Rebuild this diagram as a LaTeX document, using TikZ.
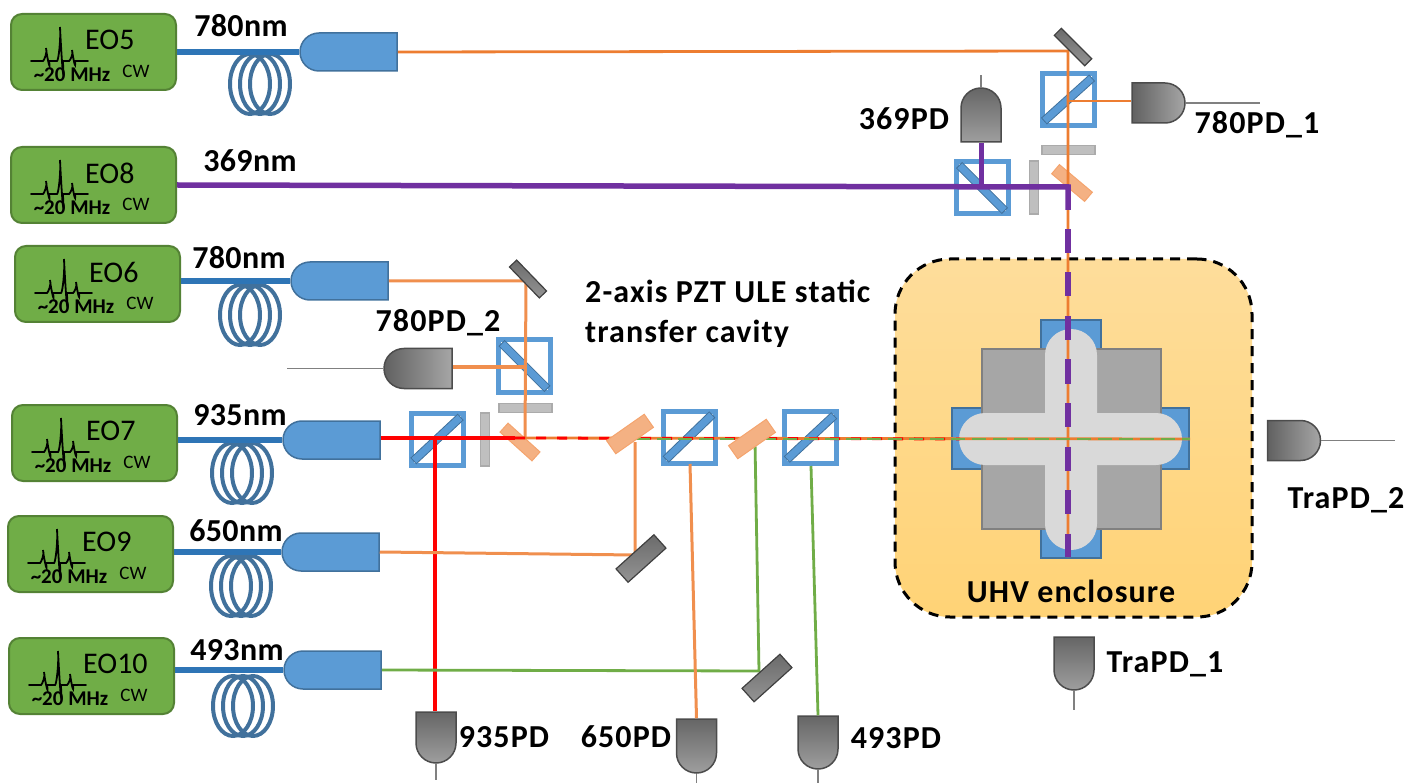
\documentclass[tikz,border=0pt]{standalone}
\usepackage{fontspec}
\setmainfont{Carlito}
\usetikzlibrary{shapes.misc}
\definecolor{eofill}{HTML}{70AD47}
\definecolor{eoline}{HTML}{548235}
\definecolor{bluefill}{HTML}{5B9BD5}
\definecolor{blueline}{HTML}{41719C}
\definecolor{fiberblue}{HTML}{2E75B6}
\definecolor{beamorange}{HTML}{ED7D31}
\definecolor{beamlight}{HTML}{F08F4E}
\definecolor{beamred}{HTML}{FF0000}
\definecolor{beamgreen}{HTML}{70AD47}
\definecolor{beampurple}{HTML}{7030A0}
\definecolor{dichfill}{HTML}{F4B183}
\definecolor{dichline}{HTML}{F4A46E}
\definecolor{wpfill}{HTML}{BFBFBF}
\definecolor{wpline}{HTML}{ABABAB}
\definecolor{uhvtop}{RGB}{254,221,155}
\definecolor{uhvbot}{RGB}{255,211,118}
\tikzset{
  lbl/.style={inner sep=0pt,font=\fontsize{32}{36}\selectfont\bfseries\addfontfeature{LetterSpace=3.5}},
  nmlbl/.style={inner sep=0pt,font=\fontsize{32}{36}\selectfont\bfseries\addfontfeature{LetterSpace=1}},
  eobox/.style={draw=eoline,line width=2pt,fill=eofill,rounded corners=11pt,minimum width=165pt,minimum height=76pt,inner sep=0pt},
  fiber/.style={draw=fiberblue,line width=5.5pt},
  coilstyle/.style={draw=blueline,line width=4pt},
  coll/.style={draw=blueline,line width=1.5pt,fill=bluefill,rounded rectangle,rounded rectangle east arc=none,minimum width=97pt,minimum height=38pt,inner sep=0pt},
  pd/.style={draw=black!70,line width=1.5pt,rounded rectangle,rounded rectangle east arc=none,minimum width=#1,minimum height=40pt,inner sep=0pt},
  pd/.default=53pt,
  pdh/.style={left color=black!62,right color=black!35},
  pdv/.style={top color=black!60,bottom color=black!38},
  wire/.style={draw=black!50,line width=1.2pt},
  mirror/.style={draw=black!75,line width=1.2pt,top color=black!58,bottom color=black!42,minimum height=10pt,minimum width=43pt,inner sep=0pt},
  bigmirror/.style={mirror,minimum height=18pt,minimum width=51pt},
  cube/.style={draw=bluefill,line width=5pt,minimum width=52pt,minimum height=52pt,inner sep=0pt},
  cubebar/.style={draw=blueline,line width=.8pt,fill=bluefill,minimum width=64pt,minimum height=8pt,inner sep=0pt},
  wp/.style={draw=wpline,line width=1.2pt,fill=wpfill,minimum width=53pt,minimum height=9pt,inner sep=0pt},
  dich/.style={draw=dichline,line width=1pt,fill=dichfill,minimum width=43pt,minimum height=12pt,inner sep=0pt},
  bigdich/.style={dich,minimum width=46pt,minimum height=16pt},
  beamO/.style={draw=beamorange,line width=2.8pt},
  beamL/.style={draw=beamlight,line width=3pt},
  beamR/.style={draw=beamred,line width=3.6pt},
  beamG/.style={draw=beamgreen,line width=2.8pt},
  beamP/.style={draw=beampurple,line width=5.5pt},
}
\newcommand{\EOunit}[4]{% name, x left, y top, label
  \node[eobox,anchor=north west] (#1) at (#2,#3) {};
  \draw[line width=1.8pt,line cap=round] ([shift={(21pt,-48pt)}]#1.north west) -- ++(12,0) .. controls +(1,0) and +(2,3) .. ++(3,-13) .. controls +(1,10) and +(2,13) .. ++(3,13) -- ++(8,0) .. controls +(1.5,0) and +(1,12) .. ++(3,-34) .. controls +(1,22) and +(1,34) .. ++(3,34) -- ++(6,0) .. controls +(1,0) and +(2,3) .. ++(3,-11) .. controls +(1,8) and +(1,11) .. ++(3,11) -- ++(13,0);
  \node[inner sep=0pt,anchor=west,font=\fontsize{30}{32}\selectfont] (#1-name) at ([shift={(75pt,-27pt)}]#1.north west) {#4};
  \node[inner sep=0pt,font=\fontsize{21}{23}\selectfont\bfseries] (#1-freq) at ([shift={(62pt,-62pt)}]#1.north west) {\char"7E 20 MHz};
  \node[inner sep=0pt,font=\fontsize{19}{21}\selectfont] (#1-cw) at ([shift={(126pt,-58pt)}]#1.north west) {CW};
}
\newcommand{\coil}[2]{%
  \foreach \dx in {-10,0,10} \draw[coilstyle] (#1+\dx,#2) ellipse [x radius=20pt,y radius=30pt];
}
\begin{document}
\begin{tikzpicture}[x=1pt,y=-1pt]
\useasboundingbox (0,0) rectangle (1421,783);

% ---- coils (under fibres)
\coil{260}{84}
\coil{250}{315}
\coil{242}{473}
\coil{241}{586}
\coil{243}{706}

% ---- EO units
\EOunit{EO5}{10}{13}{EO5}
\EOunit{EO8}{10}{146}{EO8}
\EOunit{EO6}{14}{245}{EO6}
\EOunit{EO7}{11}{404}{EO7}
\EOunit{EO9}{7}{515}{EO9}
\EOunit{EO10}{8}{637}{EO10}

% ---- collimators
\node[coll] (col5) at (348.5,52) {};
\node[coll] (col6) at (339.5,281) {};
\node[coll] (col7) at (331.5,440) {};
\node[coll] (col9) at (330.5,552) {};
\node[coll] (col10) at (332.5,670) {};

\draw[fiber] (col5.west -| EO5.east) -- (col5.west);
\draw[fiber] (col6.west -| EO6.east) -- (col6.west);
\draw[fiber] (col7.west -| EO7.east) -- (col7.west);
\draw[fiber] (col9.west -| EO9.east) -- (col9.west);
\draw[fiber] (col10.west -| EO10.east) -- (col10.west);

% ---- UHV enclosure
\node[draw=black,line width=3pt,dash pattern=on 10pt off 7pt,rounded corners=55pt,minimum width=357pt,minimum height=358pt,inner sep=0pt,top color=uhvtop,bottom color=uhvbot] (uhv) at (1073.5,438) {};
\node[draw=blueline,line width=1.5pt,fill=bluefill,minimum width=60pt,minimum height=238pt,inner sep=0pt] (portV) at (1071,439) {};
\node[draw=blueline,line width=1.5pt,fill=bluefill,minimum width=237pt,minimum height=61pt,inner sep=0pt] (portH) at (1070.5,438.5) {};
\node[draw=black!50,line width=2pt,fill=black!35,minimum width=179pt,minimum height=180pt,inner sep=0pt] (block) at (1071.5,439) {};
\node[fill=black!15,rounded rectangle,minimum width=223pt,minimum height=52pt,inner sep=0pt] (capH) at (1070.5,439) {};
\node[fill=black!15,rounded rectangle,rotate=90,minimum width=221pt,minimum height=52pt,inner sep=0pt] (capV) at (1071,439.5) {};

% ---- optics on the top right
\node[cube] (pbs1) at (1068,99.5) {};
\node[cubebar,rotate=42] (pbs1bar) at (pbs1.center) {};
\node[cube] (pbs2) at (982,188) {};
\node[cubebar,rotate=-45] (pbs2bar) at (pbs2.center) {};
\node[wp] (wp1) at (1068.5,150) {};
\node[wp,rotate=90] (wp2) at (1034,187.5) {};
\node[dich,rotate=-40] (d1) at (1072,183) {};

% ---- optics at the left
\node[cube] (pbs3) at (524.5,366) {};
\node[cubebar,rotate=-45] (pbs3bar) at (pbs3.center) {};
\node[wp] (wp3) at (525.5,408) {};
\node[cube] (pbs4) at (437,439) {};
\node[cubebar,rotate=43] (pbs4bar) at (pbs4.center) {};
\node[wp,rotate=90] (wp4) at (485,439.5) {};
\node[dich,rotate=-42] (d2) at (520,442) {};
\node[cube] (pbs5) at (689,437) {};
\node[cubebar,rotate=44] (pbs5bar) at (pbs5.center) {};
\node[cube] (pbs6) at (810.5,437.5) {};
\node[cubebar,rotate=43] (pbs6bar) at (pbs6.center) {};

% ---- photodiodes
\node[pd,pdh,rotate=180] (pd7801) at (1158.5,103) {};
\node[pd=54pt,pdv,rotate=-90] (pd369) at (981,115) {};
\node[pd=68pt,pdh] (pd7802) at (418,368.5) {};
\node[pd,pdh,rotate=180] (pdT2) at (1294,440.5) {};
\node[pd,pdv,rotate=90] (pdT1) at (1074,663.5) {};
\node[pd=51pt,pdv,rotate=90] (pd935) at (436,737.5) {};
\node[pd=54pt,pdv,rotate=90] (pd650) at (696.5,746) {};
\node[pd=53pt,pdv,rotate=90] (pd493) at (818,742.5) {};

% ---- wires
\coordinate (w1) at (1260,103);
\coordinate (w2) at (981,75);
\coordinate (w3) at (287,368.5);
\coordinate (w4) at (1395,440.5);
\coordinate (w5) at (1074,710);
\coordinate (w6) at (436,780);
\coordinate (w7) at (696.5,783);
\coordinate (w8) at (818,783);
\draw[wire] (pd7801.west) -- (w1);
\draw[wire] (pd369.west) -- (w2);
\draw[wire] (pd7802.west) -- (w3);
\draw[wire] (pdT2.west) -- (w4);
\draw[wire] (pdT1.west) -- (w5);
\draw[wire] (pd935.west) -- (w6);
\draw[wire] (pd650.west) -- (w7);
\draw[wire] (pd493.west) -- (w8);

% ---- beams
\coordinate (a1) at (1068,51);
\coordinate (a2) at (1068,101);
\coordinate (a3) at (1068,187);
\coordinate (a4) at (1068,557);
\coordinate (a5) at (1068,229);
\coordinate (a6) at (981,187);
\coordinate (b1) at (526,281);
\coordinate (b2) at (525,367);
\coordinate (b3) at (525,439);
\coordinate (c1) at (435,438);
\coordinate (c2) at (515,438);
\coordinate (c3) at (1190,439);
\coordinate (c4) at (636,439);
\coordinate (c5) at (960,439);
\coordinate (e1) at (635,555);
\coordinate (e2) at (635,442);
\coordinate (f1) at (759,671);
\coordinate (f2) at (755,442);
\coordinate (g1) at (690,464);
\coordinate (g2) at (811,466);

\draw[beamO] (col5.east) -- (a1) -- (a4);
\draw[beamO] (a2) -- (a2 -| pd7801.east);
\draw[beamP] (EO8.east) -- (a3) -- +(0,23);
\draw[beamP,line width=5pt] (a6) -- (pd369.east);
\draw[beamP,dash pattern=on 24pt off 19.5pt] (a5) -- (a4);
\draw[beamL] (col6.east) -- (b1) -- (b3);
\draw[beamL] (b2) -- (b2 -| pd7802.east);
\draw[beamO] (c2) -- (c3);
\draw[beamR] (c1 -| col7.east) -- (c2);
\draw[beamR,line width=2.8pt,dash pattern=on 10pt off 11pt] (c2) -- (c5);
\draw[beamR] (c1) -- (c1 |- pd935.east);
\draw[beamG,dash pattern=on 14pt off 7pt] (c4) -- (c3);
\draw[beamL] (col9.east) -- (e1) -- (e2);
\draw[beamG] (col10.east) -- (f1) -- (f2);
\draw[beamL] (g1) -- (pd650.east);
\draw[beamG] (g2) -- (pd493.east);

% ---- elements on top of the beams
\node[mirror,rotate=-45] (m1) at (1073,47) {};
\node[mirror,rotate=-46] (m2) at (528,279) {};
\node[bigmirror,rotate=42] (m3) at (641,558.5) {};
\node[bigmirror,rotate=42] (m4) at (767,678) {};
\node[bigdich,rotate=35] (d3) at (630,434) {};
\node[bigdich,rotate=35] (d4) at (752,439) {};

% ---- labels
\node[nmlbl] (t1) at (241,26) {780nm};
\node[nmlbl] (t2) at (250,161) {369nm};
\node[nmlbl] (t3) at (239,258) {780nm};
\node[nmlbl] (t4) at (240,415) {935nm};
\node[nmlbl] (t5) at (236,531) {650nm};
\node[nmlbl] (t6) at (237,650) {493nm};
\node[lbl] (t7) at (1257,125) {780PD\_1};
\node[lbl] (t8) at (904,119) {369PD};
\node[lbl] (t9) at (438,323) {780PD\_2};
\node[lbl,anchor=west] (t10) at (585,291) {2-axis PZT ULE static};
\node[lbl,anchor=west] (t11) at (585,334) {transfer cavity};
\node[lbl] (t12) at (1071,591) {UHV enclosure};
\node[lbl] (t13) at (1346,500) {TraPD\_2};
\node[lbl] (t14) at (1165,664) {TraPD\_1};
\node[lbl] (t15) at (504,737) {935PD};
\node[lbl] (t16) at (626,737) {650PD};
\node[lbl] (t17) at (896,738) {493PD};
\end{tikzpicture}
\end{document}
